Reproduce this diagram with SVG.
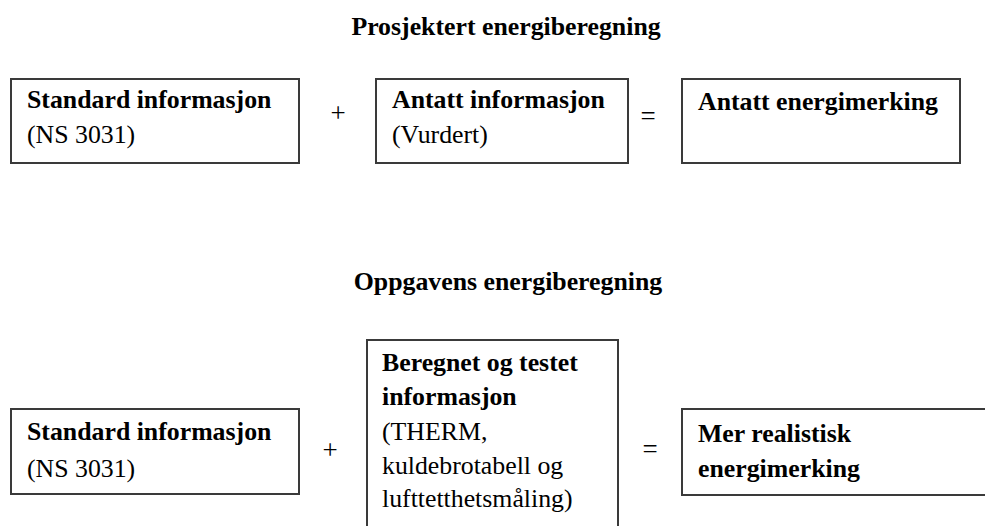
<svg xmlns="http://www.w3.org/2000/svg" width="985" height="526" viewBox="0 0 985 526">
<style>
text { font-family: "Liberation Serif", "Times New Roman", serif; font-size: 25.8px; fill: #000; }
.b { font-weight: bold; }
.box { fill: #fff; stroke: #3a3a3a; stroke-width: 2; }
.op { text-anchor: middle; font-size: 27px; }
</style>
<rect width="985" height="526" fill="#fff"/>
<text class="b" x="506" y="35" text-anchor="middle">Prosjektert energiberegning</text>
<text class="b" x="508" y="290" text-anchor="middle">Oppgavens energiberegning</text>
<g id="top-standard">
<rect class="box" x="11" y="79" width="288" height="84"/>
<text class="b" x="27" y="108">Standard informasjon</text>
<text x="27" y="143">(NS 3031)</text>
</g>
<g id="top-antatt">
<rect class="box" x="376" y="79" width="252" height="84"/>
<text class="b" x="392" y="108">Antatt informasjon</text>
<text x="392" y="143">(Vurdert)</text>
</g>
<g id="top-result">
<rect class="box" x="682" y="79" width="278" height="84"/>
<text class="b" x="698" y="110">Antatt energimerking</text>
</g>
<g id="bottom-standard">
<rect class="box" x="11" y="409" width="288" height="85"/>
<text class="b" x="27" y="440">Standard informasjon</text>
<text x="27" y="477">(NS 3031)</text>
</g>
<g id="bottom-beregnet">
<rect class="box" x="367" y="340" width="251" height="200"/>
<text class="b" x="382" y="371">Beregnet og testet</text>
<text class="b" x="382" y="405">informasjon</text>
<text x="382" y="440">(THERM,</text>
<text x="382" y="474">kuldebrotabell og</text>
<text x="382" y="507">lufttetthetsmåling)</text>
</g>
<g id="bottom-result">
<rect class="box" x="682" y="409" width="320" height="86"/>
<text class="b" x="698" y="442">Mer realistisk</text>
<text class="b" x="698" y="477">energimerking</text>
</g>
<g id="connectors">
<text class="op" x="338" y="122">+</text>
<text class="op" x="648" y="125">=</text>
<text class="op" x="330" y="459">+</text>
<text class="op" x="650" y="458">=</text>
</g>
</svg>
